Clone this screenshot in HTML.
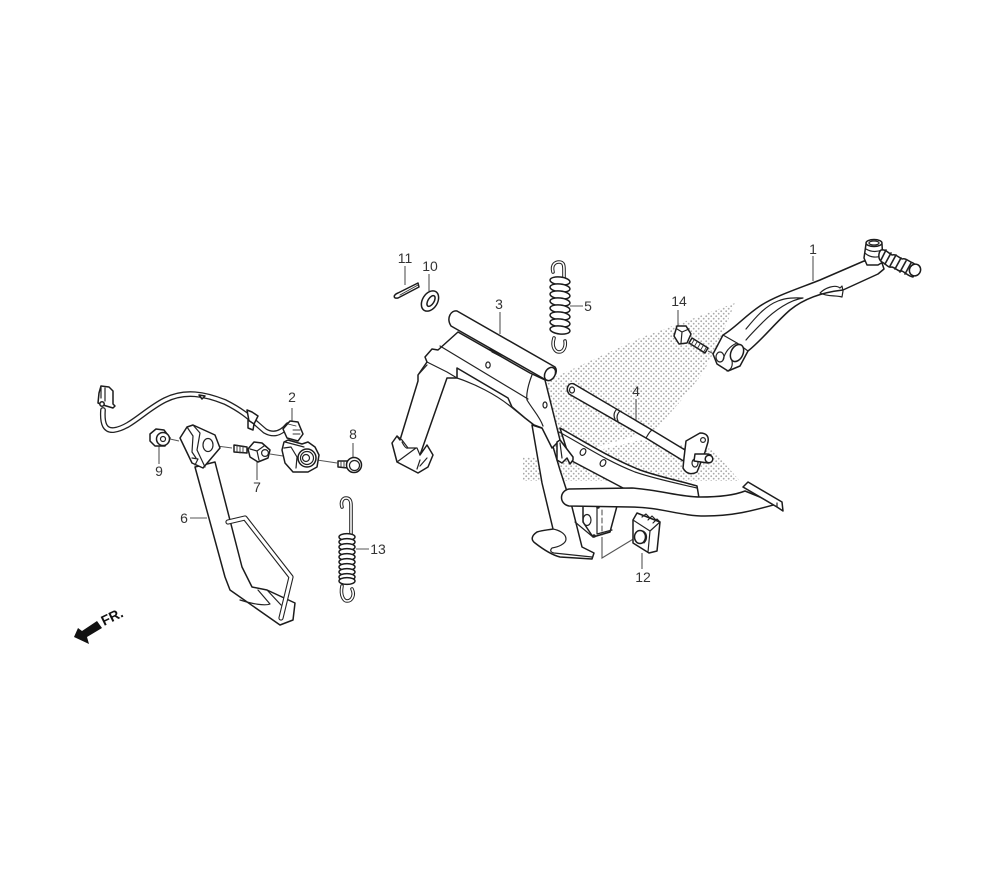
<!DOCTYPE html>
<html><head><meta charset="utf-8"><title>Diagram</title>
<style>
html,body{margin:0;padding:0;background:#fff}
svg{display:block}
text{font-family:"Liberation Sans",sans-serif;font-size:14px;fill:#333;text-anchor:middle}
.p{fill:#fff;stroke:#1c1c1c;stroke-width:1.5;stroke-linejoin:round;stroke-linecap:round}
.n{fill:none;stroke:#222;stroke-width:1.2;stroke-linejoin:round;stroke-linecap:round}
.t{fill:none;stroke:#333;stroke-width:.9;stroke-linecap:round}
.l{fill:none;stroke:#555;stroke-width:1.1}
.wb{fill:none;stroke:#222;stroke-width:3.6;stroke-linecap:round;stroke-linejoin:round}
.ww{fill:none;stroke:#fff;stroke-width:1.6;stroke-linecap:round;stroke-linejoin:round}
</style></head><body>
<svg width="1000" height="880" viewBox="0 0 1000 880" xmlns="http://www.w3.org/2000/svg">
<defs><pattern id="d" width="5" height="5" patternUnits="userSpaceOnUse"><circle cx="1.2" cy="1.2" r=".9" fill="#aaa"/><circle cx="3.7" cy="3.7" r=".9" fill="#aaa"/></pattern></defs>
<rect width="1000" height="880" fill="#fff"/>

<!-- watermark -->
<polygon points="735,303 640,338 553,378 527,405 560,458 655,430 680,402 703,373 720,340" fill="url(#d)"/>
<polygon points="523,457 570,457 640,440 712,449 740,481 523,481" fill="url(#d)"/>

<!-- leaders -->
<g class="l">
<path d="M813 256V281M292 408V422M500 312V334M636 399V421M570 306H583M190 518H207M257 462V480M353 443V458M159 445V464M429 274V291M405 266V285M642 553V569M356 549H369M678 310V327"/>
<path d="M170 439L179 441M217 446L232 448M270 454L283 456M317 460L337 463M708 351L716 355"/>
<path d="M602 537V558L635 538"/>
</g>

<!-- part 11, 10 -->
<path class="p" d="M418 283L398 293C393 295 393 299 398 298L419 287Z"/><path class="t" d="M400 295L418 285"/>
<ellipse class="p" cx="430" cy="301" rx="7.5" ry="11" transform="rotate(32 430 301)"/>
<ellipse class="p" cx="431" cy="301" rx="3" ry="6" transform="rotate(32 431 301)"/>

<!-- spring 5 -->
<path class="wb" d="M553 272C551 264 556 262 559 262C564 262 564 266 564 270V282"/>
<path class="ww" d="M553 272C551 264 556 262 559 262C564 262 564 266 564 270V282"/>
<path class="wb" d="M554 338C551 348 556 352 559 352C564 352 566 346 565 341"/>
<path class="ww" d="M554 338C551 348 556 352 559 352C564 352 566 346 565 341"/>
<g class="p"><ellipse cx="560" cy="281" rx="10" ry="4" transform="rotate(6 560 281)"/><ellipse cx="560" cy="288" rx="10" ry="4" transform="rotate(6 560 288)"/><ellipse cx="560" cy="295" rx="10" ry="4" transform="rotate(6 560 295)"/><ellipse cx="560" cy="302" rx="10" ry="4" transform="rotate(6 560 302)"/><ellipse cx="560" cy="309" rx="10" ry="4" transform="rotate(6 560 309)"/><ellipse cx="560" cy="316" rx="10" ry="4" transform="rotate(6 560 316)"/><ellipse cx="560" cy="323" rx="10" ry="4" transform="rotate(6 560 323)"/><ellipse cx="560" cy="330" rx="10" ry="4" transform="rotate(6 560 330)"/></g>

<!-- spring 13 -->
<path class="wb" d="M342 507C340 500 344 498 346 498C350 498 351 501 351 505V534"/>
<path class="ww" d="M342 507C340 500 344 498 346 498C350 498 351 501 351 505V534"/>
<path class="wb" d="M342 586C340 596 344 601 347 601C352 601 355 595 352 589"/>
<path class="ww" d="M342 586C340 596 344 601 347 601C352 601 355 595 352 589"/>
<g class="p"><ellipse cx="347" cy="537" rx="8" ry="3.4"/><ellipse cx="347" cy="542" rx="8" ry="3.4"/><ellipse cx="347" cy="547" rx="8" ry="3.4"/><ellipse cx="347" cy="552" rx="8" ry="3.4"/><ellipse cx="347" cy="557" rx="8" ry="3.4"/><ellipse cx="347" cy="562" rx="8" ry="3.4"/><ellipse cx="347" cy="567" rx="8" ry="3.4"/><ellipse cx="347" cy="572" rx="8" ry="3.4"/><ellipse cx="347" cy="577" rx="8" ry="3.4"/><ellipse cx="347" cy="581" rx="8" ry="3.4"/></g>

<!-- rod 4 -->
<path class="p" d="M574 384L652 430L695 456L690 465L646 438L569 394C565 388 569 382 574 384Z"/>
<ellipse class="n" cx="572" cy="390" rx="2.5" ry="3"/>
<path class="n" d="M617 409C614 412 613 415 615 419M620 411C617 414 616 417 618 421M652 430C649 432 648 435 646 438"/>
<path class="p" d="M686 441L700 433C707 433 709 437 708 442L705 452L697 472C692 475 686 474 683 468L684 458Z"/>
<circle class="n" cx="703" cy="440" r="2.4"/><ellipse class="n" cx="695" cy="463" rx="3" ry="4"/>
<path class="p" d="M695 454L707 454L711 455L708 463L694 461Z"/><circle class="p" cx="709" cy="459" r="3.8"/>

<!-- right leg + foot -->
<path class="p" d="M532 425L548 430L560 470L572 507L582 547L594 553L592 559L560 557C552 555 544 550 535 543C531 540 531 536 537 532C543 530 548 530 553 529L542 483Z"/>
<path class="n" d="M553 529C558 530 566 533 566 539C566 544 558 547 552 548C550 550 550 552 554 553L592 557"/>

<!-- brake arm plate -->
<path class="p" d="M560 428C585 442 610 458 640 470C660 477 680 481 697 486L699 498L623 488L570 460Z"/>
<path class="n" d="M559 432C585 446 605 460 635 472C655 479 680 484 697 488"/>
<ellipse class="n" cx="583" cy="452" rx="2.6" ry="3.6" transform="rotate(30 583 452)"/>
<ellipse class="n" cx="603" cy="463" rx="2.6" ry="3.6" transform="rotate(30 603 463)"/>

<!-- stand main body -->
<path class="p" d="M458 332L438 350L432 349L425 357L427 362L418 375L418 381L400 440L397 436L392 443L397 462L418 473L428 467L433 455L427 445L420 455L447 378L457 378V368L508 398L512 407L525 418L534 425L542 428L552 448L560 440L545 380L530 373Z"/>
<path class="n" d="M440 346L528 399M427 362L447 372L457 378M427 365L418 375M457 368L457 378C475 384 495 394 510 406L525 418M532 375C528 385 526 395 527 400C533 410 540 417 543 426"/>
<path class="n" d="M397 436L402 440L408 448L417 448L420 455M402 442C404 446 406 449 408 448M420 460L417 469M397 462L416 448M427 458L420 466"/>
<path class="n" d="M490 349L501 356M492 352L500 356"/>
<ellipse class="n" cx="488" cy="365" rx="2.2" ry="3"/><ellipse class="n" cx="545" cy="405" rx="2" ry="3"/>
<!-- tab -->
<path class="p" d="M557 442L560 440L573 457L573 460L570 464L567 458L562 463L557 460Z"/><path class="n" d="M560 443L562 458"/>
<!-- tube -->
<path class="p" d="M457 311L555 367C559 372 553 381 546 380L451 326C446 318 451 310 457 311Z"/>
<ellipse class="p" cx="550" cy="374" rx="5" ry="7" transform="rotate(30 550 374)"/>

<!-- bracket -->
<path class="p" d="M583 506V522L593 537L610 532L617 506Z"/>
<path class="n" d="M597 506V534L612 530M575 522L593 537"/><path class="t" stroke-dasharray="5 3" d="M602 510V535"/>
<ellipse class="n" cx="587" cy="520" rx="4" ry="5.5"/><circle cx="594" cy="536" r="1.8" fill="#222"/><circle cx="598" cy="507" r="1.8" fill="#222"/>
<!-- brake tube -->
<path class="p" d="M569 489L632 488C660 490 680 497 700 497C720 497 735 495 745 491L777 504C755 510 735 516 705 516C680 516 660 507 630 507L569 506C559 504 559 491 569 489Z"/>
<path class="p" d="M743 487L748 482L782 502L783 511L777 507Z"/><path class="n" d="M743 487L777 507L777 503"/>

<!-- block 12 -->
<path class="p" d="M637 513L660 522L657 551L649 553L633 543L633 520Z"/>
<path class="n" d="M633 520L650 531L660 522M650 531L648 552"/>
<path class="n" d="M642 517L646 514L650 518M648 520L652 516L656 520M653 523L657 519L660 522"/>
<ellipse class="p" cx="640" cy="537" rx="5.5" ry="6.5"/><path class="n" d="M643 531C647 533 648 539 644 543"/>

<!-- bolt 14 -->
<path class="p" d="M692 338L708 348L705 353L689 343Z"/>
<path class="t" d="M694 340L691 345M697 342L694 347M700 344L697 349M703 346L700 351M706 348L703 353"/>
<path class="p" d="M677 326L686 326L691 334L687 343L679 344L674 336Z"/><path class="n" d="M677 329L682 332L689 329M682 332L681 343"/>

<!-- lever 1 -->
<path class="p" d="M723 335C735 328 745 316 760 306C775 296 800 288 820 280L864 261L882 263L884 269L878 274L843 290C825 292 806 297 790 310C775 323 762 340 748 351L740 366L728 371L717 364L713 354Z"/>
<path class="n" d="M723 335L737 343L748 351M737 343C730 346 725 352 723 360M727 371C731 370 733 366 732 361M746 329C755 318 765 306 778 301C788 297 798 298 803 298C790 300 775 310 763 322C755 330 750 335 746 340"/>
<path class="n" d="M820 293C825 288 835 284 840 288L842 286L843 291L842 297C835 295 828 297 820 293Z"/>
<ellipse class="n" cx="720" cy="357" rx="4" ry="5"/>
<ellipse class="p" cx="737" cy="353" rx="6" ry="9" transform="rotate(25 737 353)"/>
<!-- lever head -->
<path class="p" d="M866 244H882L883 262L878 265L867 265L864 258Z"/>
<ellipse class="p" cx="874" cy="243" rx="8" ry="3.5"/><ellipse class="n" cx="874" cy="243" rx="5" ry="2"/>
<path class="n" d="M865 253C870 258 878 258 883 255M866 249C871 252 877 252 882 250"/>
<path class="p" d="M881 250C886 249 888 253 892 255C896 254 898 257 902 259C906 258 908 261 913 263L919 267L913 277C908 276 906 273 902 271C898 272 896 268 892 267C888 268 886 264 882 262C878 260 878 253 881 250Z"/>
<path class="t" style="stroke-width:1.6;stroke:#222" d="M886 250L881 260M891 253L885 264M896 255L890 266M901 258L895 269M906 261L900 272M911 263L905 274"/>
<ellipse class="p" cx="915" cy="270" rx="5.5" ry="6" transform="rotate(30 915 270)"/>

<!-- cable 2 -->
<path d="M103 410C102 424 105 431 114 430C130 428 145 410 165 400C185 390 205 394 225 402C245 412 252 420 265 431C272 435 280 435 288 425" fill="none" stroke="#222" stroke-width="5.8" stroke-linecap="round"/>
<path d="M103 410C102 424 105 431 114 430C130 428 145 410 165 400C185 390 205 394 225 402C245 412 252 420 265 431C272 435 280 435 288 425" fill="none" stroke="#fff" stroke-width="3.2" stroke-linecap="round"/>
<path class="p" d="M99 393L101 386L109 387L113 391L113 404L115 406L113 408L103 405L98 403Z"/>
<path class="n" d="M101 386V398M105 388V401"/><circle class="p" cx="102" cy="404" r="2.2"/>
<path class="p" d="M247 410L252 412L258 416L254 424L249 421Z"/>
<path class="p" d="M248 420L254 424L253 430L248 428Z"/>
<path class="p" d="M199 395L205 396L202 399Z"/>
<!-- part 2 body -->
<path class="p" d="M283 429L290 421L298 422L303 434L298 441L287 438Z"/>
<path class="t" d="M288 424L296 426M293 430L300 430M293 434L300 434"/>
<path class="p" d="M284 442L288 440L302 444L308 442L315 447L319 455L317 467L308 472L293 472L285 463L282 450Z"/>
<path class="n" d="M284 448L291 447L297 457L296 468M285 442L304 447"/>
<circle class="p" cx="307" cy="458" r="9"/><circle class="n" cx="307" cy="458" r="6.5"/><circle class="n" cx="306" cy="458" r="3.5"/>

<!-- bolt 8 -->
<path class="p" d="M338 461L348 461V468L338 467Z"/><path class="t" d="M341 461V467M344 461V468"/>
<circle class="p" cx="354" cy="465" r="7.5"/><circle class="n" cx="354.5" cy="465.5" r="5"/>

<!-- bolt/nut 7 -->
<path class="p" d="M234 445L247 447V453L234 452Z"/><path class="t" d="M237 445V452M240 446V453M243 446V453"/>
<path class="p" d="M254 442L262 443L270 450L268 458L258 462L250 457L248 449Z"/>
<path class="n" d="M250 449L257 451L259 460M257 451L264 446"/>
<circle class="n" cx="265" cy="453" r="3.4"/>

<!-- nut 9 -->
<path class="p" d="M150 434L156 429L164 430L170 438L165 446L155 446L150 441Z"/>
<circle class="p" cx="163" cy="439" r="6.5"/><circle class="n" cx="163" cy="439" r="2.5"/>

<!-- pedal 6 -->
<path class="p" d="M195 467L215 462L242 567L252 587L267 590L295 603L293 620L280 625L230 590L225 577Z"/>
<path class="n" d="M240 600C252 604 265 606 270 604L258 590M267 590L281 605"/>
<path class="p" d="M180 438L187 427L193 425L215 435L220 448L203 468L192 463Z"/>
<path class="n" d="M193 425L200 433L197 450L205 467M187 427L193 436L192 452L196 458M192 458L198 459L195 465"/>
<ellipse class="n" cx="208" cy="445" rx="5" ry="6.5"/>
<path d="M228 522L245 518L291 577L281 618" fill="none" stroke="#222" stroke-width="5.2" stroke-linejoin="round" stroke-linecap="round"/>
<path d="M228 522L245 518L291 577L281 618" fill="none" stroke="#fff" stroke-width="3" stroke-linejoin="round" stroke-linecap="round"/>

<!-- FR arrow -->
<polygon points="74,637 78,628 82,631 97,621 102,628 87,637 89,644" fill="#111"/>
<text transform="translate(104 626) rotate(-26)" style="font-size:14px;font-weight:bold;text-anchor:start;fill:#111">FR.</text>

<!-- labels -->
<text x="813" y="254">1</text>
<text x="292" y="402">2</text>
<text x="499" y="309">3</text>
<text x="636" y="396">4</text>
<text x="588" y="311">5</text>
<text x="184" y="523">6</text>
<text x="257" y="492">7</text>
<text x="353" y="439">8</text>
<text x="159" y="476">9</text>
<text x="430" y="271">10</text>
<text x="405" y="263">11</text>
<text x="643" y="582">12</text>
<text x="378" y="554">13</text>
<text x="679" y="306">14</text>
</svg>
</body></html>
